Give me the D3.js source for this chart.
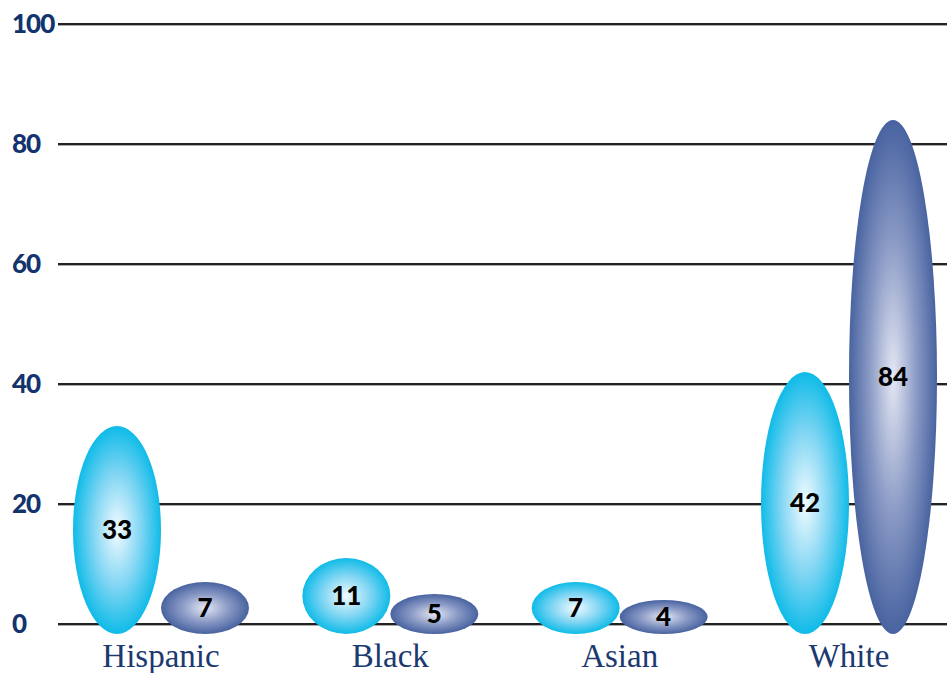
<!DOCTYPE html>
<html>
<head>
<meta charset="utf-8">
<script src="https://cdn.jsdelivr.net/npm/d3@7"></script>
<style>
  body { margin: 0; background: #fff; }
  svg { display: block; }
</style>
</head>
<body>
<div id="chart"></div>
<script>
const categories = ["Hispanic", "Black", "Asian", "White"];
const seriesA = [33, 11, 7, 42];   // light blue
const seriesB = [7, 5, 4, 84];     // slate blue
const yTicks = [0, 20, 40, 60, 80, 100];

var w = 947;
var h = 673;

var svg = d3
  .select("#chart")
  .append("svg")
  .attr("width", w)
  .attr("height", h);

var yScale = d3.scaleLinear().domain([0, 100]).range([624, 24]);
var xScale = d3.scalePoint().domain(categories).range([161, 849]);
var halfW = 44; // half width of one ellipse

var defs = svg.append("defs");
var gA = defs.append("radialGradient").attr("id", "gradA");
gA.append("stop").attr("offset", "0%").attr("stop-color", "#f2fbff");
gA.append("stop").attr("offset", "55%").attr("stop-color", "#7fd5f3");
gA.append("stop").attr("offset", "100%").attr("stop-color", "#0fbbe8");
var gB = defs.append("radialGradient").attr("id", "gradB");
gB.append("stop").attr("offset", "0%").attr("stop-color", "#e4e7f3");
gB.append("stop").attr("offset", "55%").attr("stop-color", "#8898c4");
gB.append("stop").attr("offset", "100%").attr("stop-color", "#4863a0");

// grid lines
var grid = svg.append("g");
yTicks.forEach(function (t) {
  grid.append("line")
    .attr("x1", 58).attr("x2", w)
    .attr("y1", yScale(t) + 1.5).attr("y2", yScale(t) + 1.5)
    .attr("stroke", "#aaa").attr("stroke-width", 1);
  grid.append("line")
    .attr("x1", 58).attr("x2", w)
    .attr("y1", yScale(t)).attr("y2", yScale(t))
    .attr("stroke", "#222").attr("stroke-width", 2.2);
});

// y tick labels
svg.append("g")
  .selectAll("text")
  .data(yTicks)
  .enter()
  .append("text")
  .attr("x", 12)
  .attr("y", (d) => yScale(d))
  .attr("dy", "0.36em")
  .attr("font-family", "Lato, sans-serif")
  .attr("font-weight", 900)
  .attr("font-size", 26)
  .attr("letter-spacing", -1)
  .attr("fill", "#12336d")
  .text((d) => d);

// ellipses from slightly below zero up to the value
var bottom = yScale(0) + 10;
function drawSeries(vals, offset, grad) {
  var g = svg.append("g");
  g.selectAll("ellipse")
    .data(vals)
    .enter()
    .append("ellipse")
    .attr("cx", (d, i) => xScale(categories[i]) + offset)
    .attr("cy", (d) => (yScale(d) + bottom) / 2)
    .attr("rx", halfW)
    .attr("ry", (d) => (bottom - yScale(d)) / 2)
    .attr("fill", "url(#" + grad + ")");
  g.selectAll("text")
    .data(vals)
    .enter()
    .append("text")
    .attr("x", (d, i) => xScale(categories[i]) + offset)
    .attr("y", (d) => (yScale(d) + bottom) / 2)
    .attr("dy", "0.36em")
    .attr("text-anchor", "middle")
    .attr("font-family", "Lato, sans-serif")
    .attr("font-weight", 900)
    .attr("font-size", 26)
    .attr("fill", "#000")
    .text((d) => d);
}
drawSeries(seriesA, -halfW, "gradA");
drawSeries(seriesB, halfW, "gradB");

// category labels
svg.append("g")
  .selectAll("text")
  .data(categories)
  .enter()
  .append("text")
  .attr("x", (d) => xScale(d))
  .attr("y", 667)
  .attr("text-anchor", "middle")
  .attr("font-family", "'Liberation Serif', serif")
  .attr("font-size", 33)
  .attr("fill", "#1b3a6f")
  .text((d) => d);
</script>
</body>
</html>
